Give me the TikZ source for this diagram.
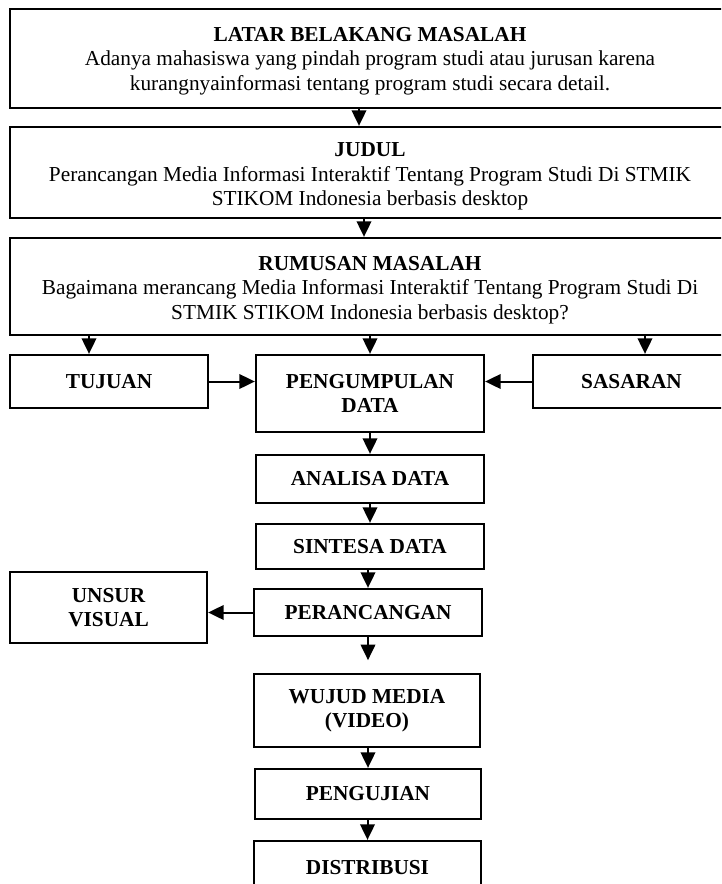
\documentclass[tikz,border=0pt]{standalone}
\usepackage{fontspec}
\setmainfont{Liberation Serif}
\usetikzlibrary{arrows.meta,calc}
\begin{document}
\begin{tikzpicture}[x=1pt,y=-1pt,
  box/.style={draw, line width=2.3pt, inner sep=0pt, align=center,
    font=\fontsize{21.3}{24.3}\selectfont},
  bbox/.style={box, font=\fontsize{21.3}{24.3}\selectfont\bfseries},
  arr/.style={line width=2pt, -{Triangle[length=15.5pt,width=14.5pt]}}]
\useasboundingbox (0,0) rectangle (721,884);
\clip (0,0) rectangle (721,884);
% main boxes
\node[box, minimum width=720pt, minimum height=99pt] (b1) at (370,58.5)
  {\rule{0pt}{19pt}\textbf{LATAR BELAKANG MASALAH}\\Adanya mahasiswa yang pindah program studi atau jurusan karena\\kurangnyainformasi tentang program studi secara detail.};
\node[box, minimum width=720pt, minimum height=91pt] (b2) at (370,172.5)
  {\rule{0pt}{22pt}\textbf{JUDUL}\\Perancangan Media Informasi Interaktif Tentang Program Studi Di STMIK\\STIKOM Indonesia berbasis desktop};
\node[box, minimum width=720pt, minimum height=97pt] (b3) at (370,286.5)
  {\rule{0pt}{21pt}\textbf{RUMUSAN MASALAH}\\Bagaimana merancang Media Informasi Interaktif Tentang Program Studi Di\\STMIK STIKOM Indonesia berbasis desktop?};
% row
\node[bbox, minimum width=198pt, minimum height=53pt] (tj) at (109,381.5) {TUJUAN};
\node[bbox, minimum width=228pt, minimum height=77pt] (pg) at (370,393.5) {PENGUMPULAN\\DATA};
\node[bbox, minimum width=197pt, minimum height=53pt] (ss) at (631.5,381.5) {SASARAN};
% chain
\node[bbox, minimum width=228pt, minimum height=48pt] (an) at (370,479) {ANALISA DATA};
\node[bbox, minimum width=228pt, minimum height=45pt] (si) at (370,546.5) {SINTESA DATA};
\node[bbox, minimum width=197pt, minimum height=71pt] (uv) at (108.5,607.5) {UNSUR\\VISUAL};
\node[bbox, minimum width=228pt, minimum height=47pt] (pr) at (368,612.5) {PERANCANGAN};
\node[bbox, minimum width=226pt, minimum height=73pt] (wm) at (367,710.5) {WUJUD MEDIA\\(VIDEO)};
\node[bbox, minimum width=226pt, minimum height=50pt] (pj) at (368,794) {PENGUJIAN};
\node[bbox, minimum width=227pt, minimum height=54pt] (di) at (367.5,868) {DISTRIBUSI};
\coordinate (ge) at ($(pr.south)+(0,23)$);
% connectors
\draw[arr] ($(b1.south)+(-11,0)$) -- ($(b2.north)+(-11,0)$);
\draw[arr] ($(b2.south)+(-6,0)$) -- ($(b3.north)+(-6,0)$);
\draw[arr] ($(b3.south -| tj.north)+(-20,0)$) -- ($(tj.north)+(-20,0)$);
\draw[arr] (b3.south -| pg.north) -- (pg.north);
\draw[arr] ($(b3.south -| ss.north)+(13.5,0)$) -- ($(ss.north)+(13.5,0)$);
\draw[arr] (tj.east) -- (tj.east -| pg.west);
\draw[arr] (ss.west) -- (ss.west -| pg.east);
\draw[arr] (pg.south) -- (an.north);
\draw[arr] (an.south) -- (si.north);
\draw[arr] (si.south -| pr.north) -- (pr.north);
\draw[arr] (pr.west) -- (pr.west -| uv.east);
\draw[arr] (pr.south) -- (ge);
\draw[arr] (wm.south -| pj.north) -- (pj.north);
\draw[arr] (pj.south -| di.north) -- (di.north);
\end{tikzpicture}
\end{document}
